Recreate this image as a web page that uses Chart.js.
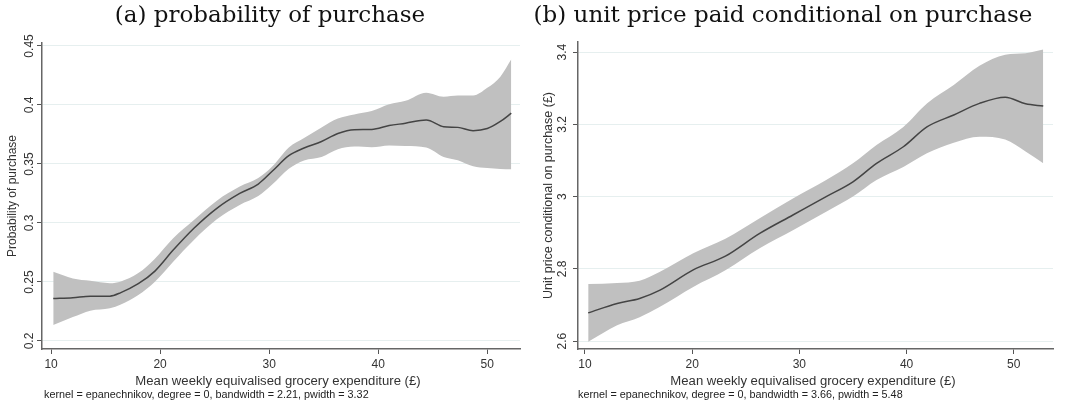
<!DOCTYPE html>
<html>
<head>
<meta charset="utf-8">
<script src="https://cdn.jsdelivr.net/npm/chart.js@4.4.1/dist/chart.umd.min.js"></script>
<style>
  body { margin: 0; background: #fff; }
  #wrap { position: relative; width: 1065px; height: 407px; overflow: hidden; }
  .panel { position: absolute; top: 0; height: 407px; }
  .ptitle { position: absolute; top: 1px; font-family: "DejaVu Serif", serif; font-size: 23px; color: #111; white-space: nowrap; line-height: 26px; transform: translateX(-50%); }
  .xtitle { position: absolute; top: 374px; font-family: "Liberation Sans", Arial, sans-serif; font-size: 12.5px; color: #333; white-space: nowrap; transform: translateX(-50%) scaleX(1.05); }
  .note { position: absolute; top: 389px; font-family: "Liberation Sans", Arial, sans-serif; font-size: 10px; color: #222; white-space: nowrap; transform-origin: left center; transform: scaleX(1.08); }
</style>
</head>
<body>
<div id="wrap">
  <div class="panel" style="left:0;width:530px"><canvas id="chartA"></canvas></div>
  <div class="panel" style="left:530px;width:535px"><canvas id="chartB"></canvas></div>
  <div class="ptitle" style="left:270px">(a) probability of purchase</div>
  <div class="ptitle" style="left:783px">(b) unit price paid conditional on purchase</div>
  <div class="xtitle" style="left:278px">Mean weekly equivalised grocery expenditure (£)</div>
  <div class="xtitle" style="left:813px">Mean weekly equivalised grocery expenditure (£)</div>
  <div class="note" style="left:44px">kernel = epanechnikov, degree = 0, bandwidth = 2.21, pwidth = 3.32</div>
  <div class="note" style="left:578px">kernel = epanechnikov, degree = 0, bandwidth = 3.66, pwidth = 5.48</div>
</div>
<script>
// panel (a): probability of purchase
const xA =     [10.2, 12, 13.6, 15.4, 16.4, 18, 19.5, 21.2, 23.1, 25.2, 27.3, 29, 30.3, 31.8, 33.2, 34.8, 36.3, 37.8, 39.4, 41, 42.5, 44.4, 46, 47.3, 48.7, 50, 51.2, 52.2];
const probA =  [0.236, 0.2367, 0.238, 0.238, 0.241, 0.2485, 0.259, 0.277, 0.2955, 0.3124, 0.325, 0.333, 0.344, 0.357, 0.3635, 0.369, 0.3758, 0.379, 0.3792, 0.3825, 0.3845, 0.3873, 0.3816, 0.381, 0.3782, 0.380, 0.386, 0.393];
const upperA = [0.2587, 0.253, 0.251, 0.249, 0.2505, 0.2575, 0.2695, 0.287, 0.3025, 0.3189, 0.3308, 0.338, 0.348, 0.364, 0.372, 0.381, 0.3885, 0.392, 0.3948, 0.4005, 0.4035, 0.4104, 0.407, 0.408, 0.408, 0.4145, 0.424, 0.4387];
const lowerA = [0.2136, 0.2203, 0.2257, 0.2277, 0.231, 0.239, 0.250, 0.2672, 0.2856, 0.3031, 0.3153, 0.3228, 0.3328, 0.346, 0.353, 0.356, 0.3625, 0.3647, 0.3641, 0.3657, 0.3653, 0.364, 0.356, 0.3532, 0.348, 0.3465, 0.3458, 0.3455];
const yTicksA = [0.2, 0.25, 0.3, 0.35, 0.4, 0.45];
const yLabelsA = ['0.2', '0.25', '0.3', '0.35', '0.4', '0.45'];

// panel (b): unit price conditional on purchase
const xB =     [10.3, 13, 15.1, 17, 20.1, 23.1, 26.3, 29.4, 32.5, 35, 37.2, 39.7, 41.9, 44.4, 46.8, 49.2, 51.1, 52.75];
const priceB = [2.678, 2.704, 2.718, 2.741, 2.797, 2.835, 2.898, 2.949, 3.0, 3.041, 3.092, 3.138, 3.193, 3.226, 3.258, 3.275, 3.257, 3.2505];
const upperB = [2.758, 2.761, 2.767, 2.792, 2.843, 2.883, 2.94, 2.995, 3.046, 3.092, 3.143, 3.193, 3.258, 3.309, 3.362, 3.393, 3.397, 3.407];
const lowerB = [2.598, 2.644, 2.666, 2.695, 2.75, 2.796, 2.857, 2.907, 2.958, 3.0, 3.046, 3.082, 3.12, 3.149, 3.166, 3.158, 3.125, 3.092];
const yTicksB = [2.6, 2.8, 3.0, 3.2, 3.4];
const yLabelsB = ['2.6', '2.8', '3', '3.2', '3.4'];

const xTicks = [10, 20, 30, 40, 50];

Chart.defaults.font.family = '"Liberation Sans", Arial, sans-serif';
Chart.defaults.color = '#333';

function pts(xs, ys) {
    return xs.map((x, i) => ({x: x, y: ys[i]}));
}

// y tick labels are rotated in the original, chart.js won't rotate them on a vertical axis
const rotatedYLabels = {
    id: 'rotatedYLabels',
    afterDraw(chart, args, opts) {
        const ctx = chart.ctx;
        const ys = chart.scales.y;
        ctx.save();
        ctx.fillStyle = '#333';
        ctx.font = '12px "Liberation Sans", Arial, sans-serif';
        ctx.textAlign = 'center';
        ctx.textBaseline = 'middle';
        opts.values.forEach((v, i) => {
            ctx.save();
            ctx.translate(opts.x, ys.getPixelForValue(v));
            ctx.rotate(-Math.PI / 2);
            ctx.fillText(opts.labels[i], 0, 0);
            ctx.restore();
        });
        ctx.restore();
    }
};

function makePanel(canvas, xs, mid, up, lo, cfg) {
    return new Chart(canvas, {
        type: 'line',
        data: {
            datasets: [
                {
                    data: pts(xs, lo),
                    borderWidth: 0,
                    pointRadius: 0,
                    fill: false,
                    cubicInterpolationMode: 'monotone',
                    order: 2
                },
                {
                    data: pts(xs, up),
                    borderWidth: 0,
                    pointRadius: 0,
                    backgroundColor: '#c0c0c0',
                    fill: '-1',
                    cubicInterpolationMode: 'monotone',
                    order: 1
                },
                {
                    data: pts(xs, mid),
                    borderColor: '#444',
                    borderWidth: 1.5,
                    pointRadius: 0,
                    fill: false,
                    cubicInterpolationMode: 'monotone',
                    order: 0
                }
            ]
        },
        options: {
            responsive: true,
            maintainAspectRatio: false,
            animation: false,
            layout: {
                padding: {top: cfg.top, right: cfg.right, left: 0, bottom: 0}
            },
            plugins: {
                legend: {display: false},
                tooltip: {enabled: false},
                rotatedYLabels: {values: cfg.yTicks, labels: cfg.yLabels, x: cfg.labelX}
            },
            scales: {
                x: {
                    type: 'linear',
                    min: cfg.xMin,
                    max: cfg.xMax,
                    afterBuildTicks(scale) {
                        scale.ticks = xTicks.map(v => ({value: v}));
                    },
                    afterFit(scale) {
                        scale.height = 58;
                    },
                    ticks: {
                        font: {size: 12},
                        color: '#333',
                        padding: 3,
                        maxRotation: 0,
                        callback: v => String(v)
                    },
                    grid: {
                        drawOnChartArea: false,
                        drawTicks: true,
                        tickLength: 5,
                        tickColor: '#555'
                    },
                    border: {color: '#666', width: 1.5}
                },
                y: {
                    type: 'linear',
                    min: cfg.yMin,
                    max: cfg.yMax,
                    afterBuildTicks(scale) {
                        scale.ticks = cfg.yTicks.map(v => ({value: v}));
                    },
                    afterFit(scale) {
                        scale.width = cfg.axisX;
                    },
                    ticks: {display: false},
                    grid: {
                        color: '#e6efef',
                        lineWidth: 1,
                        drawTicks: true,
                        tickLength: 5,
                        tickColor: '#555'
                    },
                    border: {color: '#666', width: 1.5},
                    title: {
                        display: true,
                        text: cfg.yTitle,
                        font: {size: cfg.titleSize},
                        color: '#333',
                        padding: {top: cfg.titlePad, bottom: 0}
                    }
                }
            }
        },
        plugins: [rotatedYLabels]
    });
}

makePanel(document.querySelector('#chartA'), xA, probA, upperA, lowerA, {
    top: 43, right: 10, axisX: 42, labelX: 30, titlePad: 5, titleSize: 12,
    xMin: 9.17, xMax: 53.0, yMin: 0.1932, yMax: 0.4525,
    yTicks: yTicksA, yLabels: yLabelsA,
    yTitle: 'Probability of purchase'
});

makePanel(document.querySelector('#chartB'), xB, priceB, upperB, lowerB, {
    top: 42, right: 12, axisX: 48, labelX: 33, titlePad: 11, titleSize: 12.5,
    xMin: 9.35, xMax: 53.66, yMin: 2.578, yMax: 3.428,
    yTicks: yTicksB, yLabels: yLabelsB,
    yTitle: 'Unit price conditional on purchase (£)'
});
</script>
</body>
</html>
